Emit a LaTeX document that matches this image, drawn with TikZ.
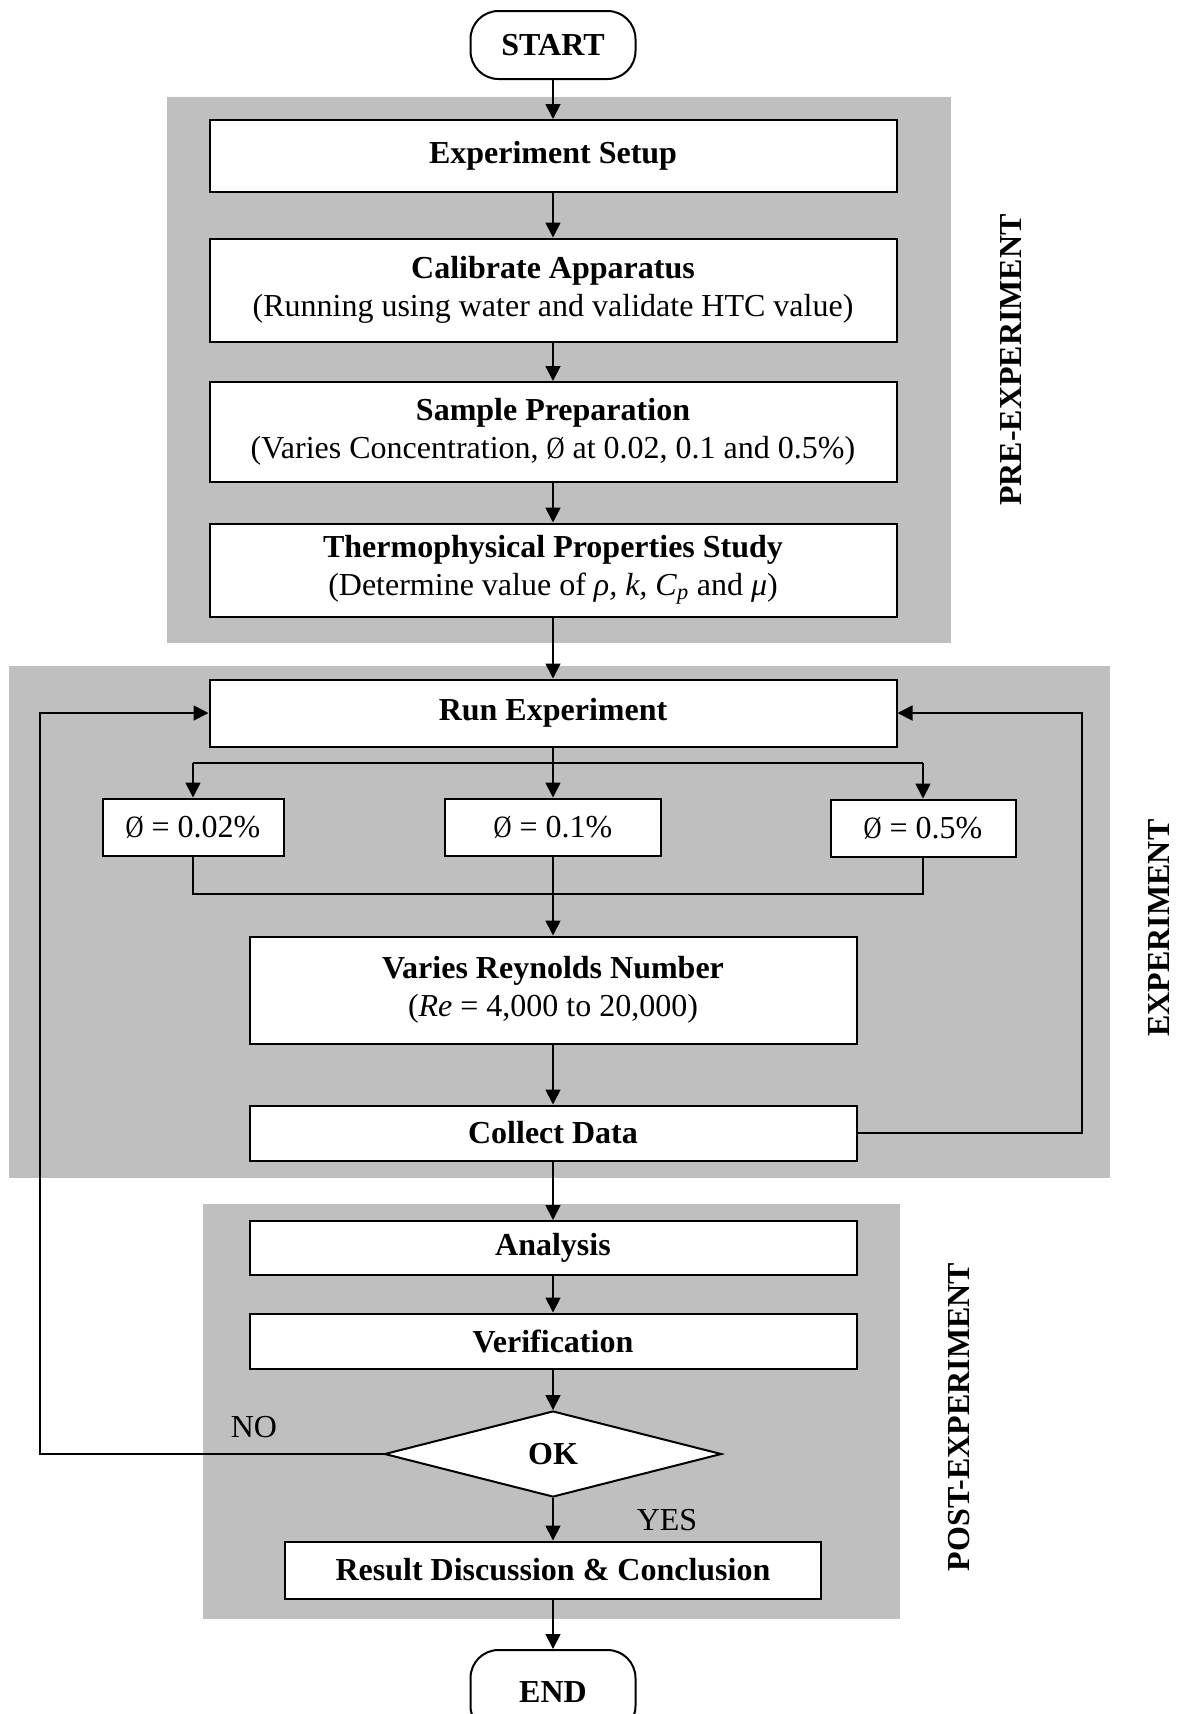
\documentclass[tikz,border=0pt]{standalone}
\usepackage{fontspec}
\usepackage{graphicx}
\setmainfont{Liberation Serif}
\usetikzlibrary{arrows.meta,shapes.geometric}
\definecolor{panel}{RGB}{191,191,191}
\newcommand{\myfs}{\fontsize{32}{38}\selectfont}
\newcommand{\phisym}{\scalebox{0.78}[0.97]{Ø}}
\begin{document}
\begin{tikzpicture}[x=1pt,y=-1pt,
  box/.style={draw,line width=2pt,fill=white,inner sep=0pt,align=center,font=\myfs},
  term/.style={box,rounded corners=28pt,font=\myfs\bfseries},
  conn/.style={line width=1.8pt},
  arr/.style={conn,-{Triangle[length=15pt,width=15pt]}},
  side/.style={font=\myfs\bfseries,rotate=90},
  lab/.style={font=\myfs}]
\useasboundingbox (0,0) rectangle (1184,1714);
\fill[white] (0,0) rectangle (1184,1714);
% panels
\fill[panel] (167,97) rectangle (951,643);
\fill[panel] (9,666) rectangle (1110,1178);
\fill[panel] (203,1204) rectangle (900,1619);
% nodes
\node[term,minimum width=165pt,minimum height=68pt] (start) at (553,45) {START};
\node[box,minimum width=687pt,minimum height=72pt] (setup) at (553,156) {\textbf{Experiment Setup}};
\node[box,minimum width=687pt,minimum height=103pt] (calib) at (553,290) {\textbf{Calibrate Apparatus}\\(Running using water and validate HTC value)};
\node[box,minimum width=687pt,minimum height=100pt] (sample) at (553,432) {\textbf{Sample Preparation}\\(Varies Concentration, \phisym{} at 0.02, 0.1 and 0.5\%)};
\node[box,minimum width=687pt,minimum height=93pt] (thermo) at (553,570) {\textbf{Thermophysical Properties Study}\\(Determine value of \textit{ρ, k, C}\textsubscript{\textit{p}} and \textit{μ})};
\node[box,minimum width=687pt,minimum height=67pt] (run) at (553,713) {\textbf{Run Experiment}};
\node[box,minimum width=181pt,minimum height=57pt] (p1) at (193,827) {\phisym{} = 0.02\%};
\node[box,minimum width=216pt,minimum height=57pt] (p2) at (553,827) {\phisym{} = 0.1\%};
\node[box,minimum width=185pt,minimum height=57pt] (p3) at (923,828) {\phisym{} = 0.5\%};
\node[box,minimum width=607pt,minimum height=107pt] (rey) at (553,990) {\textbf{Varies Reynolds Number}\\(\textit{Re} = 4,000 to 20,000)};
\node[box,minimum width=607pt,minimum height=55pt] (coll) at (553,1133) {\textbf{Collect Data}};
\node[box,minimum width=607pt,minimum height=54pt] (ana) at (553,1248) {\textbf{Analysis}};
\node[box,minimum width=607pt,minimum height=55pt] (ver) at (553,1341) {\textbf{Verification}};
\node[box,shape=diamond,minimum width=337pt,minimum height=86pt] (ok) at (553,1454) {\textbf{OK}};
\node[box,minimum width=536pt,minimum height=57pt] (res) at (553,1570) {\textbf{Result Discussion \& Conclusion}};
\node[term,minimum width=165pt,minimum height=84pt] (end) at (553,1692) {END};
% labels
\node[lab] (no) at (254,1427) {NO};
\node[lab] (yes) at (667,1520) {YES};
\node[side] (lpre) at (1011,360) {PRE-EXPERIMENT};
\node[side] (lexp) at (1159,928) {EXPERIMENT};
\node[side] (lpost) at (959,1417) {POST-EXPERIMENT};
% helper coordinates
\coordinate (br) at (553,763);
\coordinate (mg) at (553,894);
\coordinate (rx) at (1082,900);
\coordinate (lx) at (40,900);
% connectors
\draw[arr] (start) -- (setup);
\draw[arr] (setup) -- (calib);
\draw[arr] (calib) -- (sample);
\draw[arr] (sample) -- (thermo);
\draw[arr] (thermo) -- (run);
\draw[arr] (run) -- (p2);
\draw[conn] (p1.north |- br) -- (p3.north |- br);
\draw[arr] (p1.north |- br) -- (p1.north);
\draw[arr] (p3.north |- br) -- (p3.north);
\draw[conn] (p1.south) -- (p1.south |- mg) -- (p3.south |- mg) -- (p3.south);
\draw[arr] (p2) -- (rey);
\draw[arr] (rey) -- (coll);
\draw[arr] (coll.east) -- (coll.east -| rx) |- (run.east);
\draw[arr] (coll) -- (ana);
\draw[arr] (ana) -- (ver);
\draw[arr] (ver) -- (ok);
\draw[arr] (ok.west) -- (ok.west -| lx) |- (run.west);
\draw[arr] (ok) -- (res);
\draw[arr] (res) -- (end);
\end{tikzpicture}
\end{document}
